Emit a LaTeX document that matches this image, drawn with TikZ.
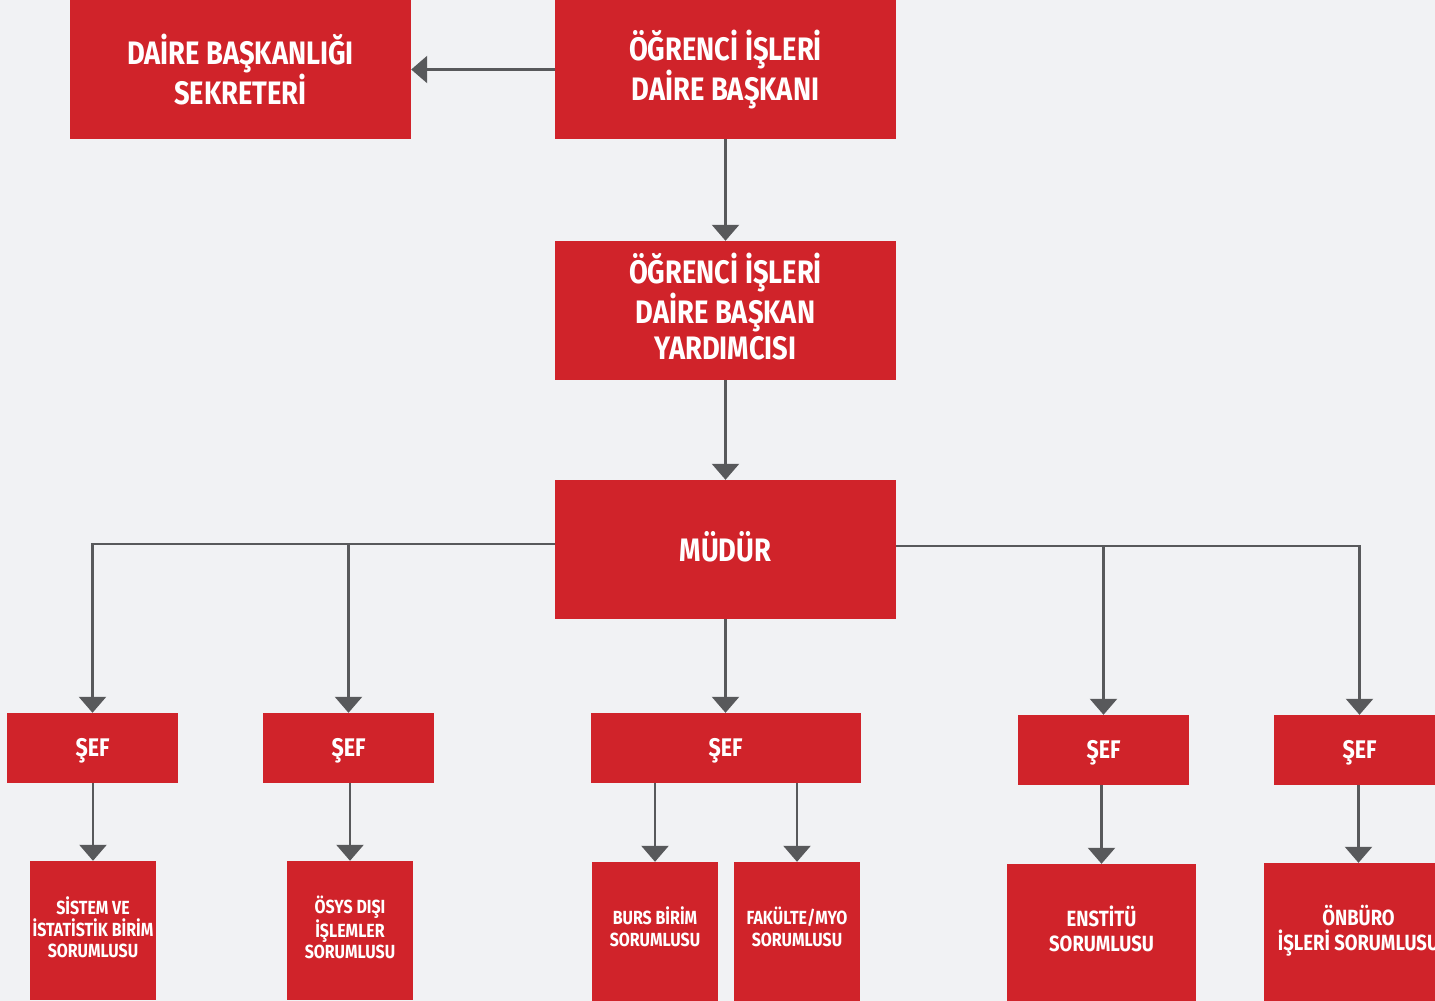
\documentclass[tikz,border=0pt]{standalone}
\usepackage{fontspec}
\setmainfont{Fira Sans}[FakeStretch=0.84]
\usetikzlibrary{arrows.meta}
\definecolor{boxred}{HTML}{D0232A}
\definecolor{bgc}{HTML}{F1F2F4}
\definecolor{lnc}{HTML}{58595B}
\begin{document}
\begin{tikzpicture}[x=1pt,y=-1pt,
  box/.style={fill=boxred,inner sep=0pt,draw=none},
  bigbox/.style={box,minimum width=341pt,minimum height=139pt},
  sefbox/.style={box,minimum width=171pt,minimum height=70pt},
  smallbox/.style={box,minimum width=126pt,minimum height=139pt},
  medbox/.style={box,minimum width=189pt,minimum height=139pt},
  txt/.style={text=white,align=center,inner sep=0pt},
  bigtxt/.style={txt,font=\bfseries\fontsize{32.5}{36}\selectfont},
  seftxt/.style={txt,font=\bfseries\fontsize{25.5}{28}\selectfont},
  smalltxt/.style={txt,font=\bfseries\fontsize{19}{21.5}\selectfont},
  medtxt/.style={txt,font=\bfseries\fontsize{22}{25}\selectfont},
  conn/.style={draw=lnc,line width=2.5pt,-{Triangle[width=27pt,length=16pt]}}]
\useasboundingbox (0,0) rectangle (1435,1001);
\fill[bgc] (0,0) rectangle (1435,1001);
\clip (0,0) rectangle (1435,1001);

% top level
\node[bigbox] (sek) at (240.5,69.5) {};
\node[bigbox] (dir) at (725.5,69.5) {};
\node[bigbox] (yrd) at (725.5,310.5) {};
\node[bigbox] (mud) at (725.5,549.5) {};
\node[bigtxt] (sekt) at (sek) {DAİRE BAŞKANLIĞI\\SEKRETERİ};
\node[bigtxt] (dirt) at (dir) {ÖĞRENCİ İŞLERİ\\DAİRE BAŞKANI};
\node[bigtxt] (yrdt) at ([yshift=4pt]yrd.center) {ÖĞRENCİ İŞLERİ\\DAİRE BAŞKAN\\YARDIMCISI};
\node[bigtxt] (mudt) at ([yshift=3pt]mud.center) {MÜDÜR};

% chiefs
\node[sefbox] (s1) at (92.5,748) {};
\node[sefbox] (s2) at (348.5,748) {};
\node[sefbox, minimum width=270pt] (s3) at (725.5,748) {};
\node[sefbox] (s4) at (1103.5,750) {};
\node[sefbox] (s5) at (1359.5,750) {};
\foreach \s in {s1,s2,s3,s4,s5}
  \node[seftxt] (\s t) at ([yshift=-3pt]\s.center) {ŞEF};

% responsibles
\node[smallbox] (r1) at (93,930.5) {};
\node[smallbox] (r2) at (350,930.5) {};
\node[smallbox] (r3) at (655,931.5) {};
\node[smallbox] (r4) at (797,931.5) {};
\node[medbox] (r5) at (1101.5,933.5) {};
\node[medbox] (r6) at (1358.5,932.5) {};
\node[smalltxt] (r1t) at ([yshift=3pt]r1.center) {SİSTEM VE\\İSTATİSTİK BİRİM\\SORUMLUSU};
\node[smalltxt] (r2t) at ([yshift=3pt]r2.center) {ÖSYS DIŞI\\İŞLEMLER\\SORUMLUSU};
\node[smalltxt, font=\bfseries\fontsize{19}{22}\selectfont] (r3t) at ([yshift=5pt]r3.center) {BURS BİRİM\\SORUMLUSU};
\node[smalltxt, font=\bfseries\fontsize{19}{22}\selectfont] (r4t) at ([yshift=5pt]r4.center) {FAKÜLTE/MYO\\SORUMLUSU};
\node[medtxt] (r5t) at ([yshift=5pt]r5.center) {ENSTİTÜ\\SORUMLUSU};
\node[medtxt] (r6t) at ([yshift=2pt]r6.center) {ÖNBÜRO\\İŞLERİ SORUMLUSU};

% connectors
\draw[conn] (dir.west) -- (sek.east);
\draw[conn] (dir.south) -- (yrd.north);
\draw[conn] (yrd.south) -- (mud.north);
\draw[conn] (mud.south) -- (s3.north);

\coordinate (ml) at ([yshift=5.5pt]mud.west);
\coordinate (mr) at ([yshift=3.5pt]mud.east);
\draw[conn] (ml) -| (s1.north);
\draw[conn] (s2.north |- ml) -- (s2.north);
\draw[conn] (mr) -| (s5.north);
\draw[conn] (s4.north |- mr) -- (s4.north);

\draw[conn] (r1.north |- s1.south) -- (r1.north);
\draw[conn] (r2.north |- s2.south) -- (r2.north);
\draw[conn] (r3.north |- s3.south) -- (r3.north);
\draw[conn] (r4.north |- s3.south) -- (r4.north);
\draw[conn] (r5.north |- s4.south) -- (r5.north);
\draw[conn] (r6.north |- s5.south) -- (r6.north);
\end{tikzpicture}
\end{document}
